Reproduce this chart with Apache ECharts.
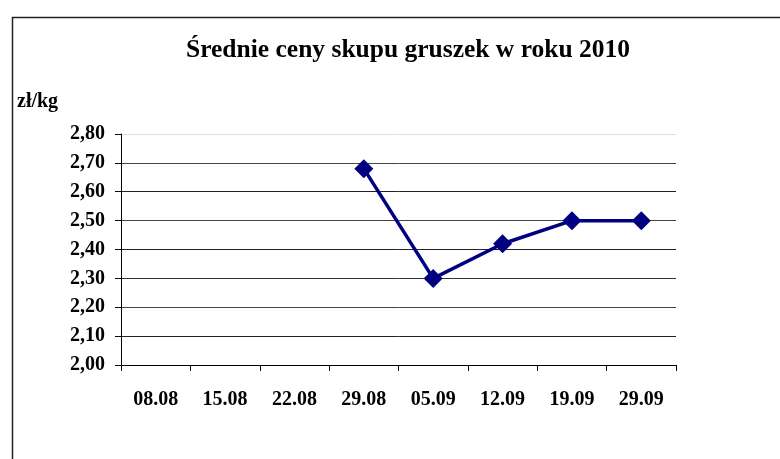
<!DOCTYPE html>
<html>
<head>
<meta charset="utf-8">
<script src="https://cdn.jsdelivr.net/npm/echarts@6/dist/echarts.min.js"></script>
<style>
  html, body { margin: 0; padding: 0; background: #fff; }
  #main { width: 780px; height: 459px; }
</style>
</head>
<body>
<div id="main"></div>
<script>
// weekly dates and average purchase price (zł/kg)
const categories = ["08.08", "15.08", "22.08", "29.08", "05.09", "12.09", "19.09", "29.09"];
const prices = [null, null, null, 2.68, 2.30, 2.42, 2.50, 2.50];
const yMin = 2.0;
const yMax = 2.8;
const yStep = 0.1;

const chart = echarts.init(document.getElementById("main"));

// gridlines from bottom to top, top one is faint like in the original
const gridColors = ["#000", "#222", "#444", "#333", "#222", "#444", "#222", "#444", "#e0e0e0"];

const option = {
  backgroundColor: "#fff",
  textStyle: { fontFamily: "Liberation Serif", fontWeight: "bold", color: "#000" },
  title: {
    text: "Średnie ceny skupu gruszek w roku 2010",
    left: 403,
    top: 32,
    textAlign: "center",
    textStyle: { fontFamily: "Liberation Serif", fontWeight: "bold", fontSize: 25.5, color: "#000" },
  },
  graphic: [
    {
      type: "rect",
      left: 10,
      top: 15,
      shape: { width: 800, height: 480 },
      style: { fill: "none", stroke: "#222", lineWidth: 1.5 },
      silent: true,
    },
    {
      type: "text",
      left: 17,
      top: 92,
      style: { text: "zł/kg", fontFamily: "Liberation Serif", fontWeight: "bold", fontSize: 20, fill: "#000" },
    },
  ],
  grid: { left: 121, right: 104, top: 134, bottom: 94 },
  xAxis: {
    type: "category",
    data: categories,
    boundaryGap: true,
    axisLine: { show: true, lineStyle: { color: "#000", width: 1 } },
    axisTick: { show: true, length: 6, lineStyle: { color: "#000" } },
    axisLabel: {
      margin: 25,
      fontFamily: "Liberation Serif",
      fontWeight: "bold",
      fontSize: 20,
      color: "#000",
    },
    splitLine: { show: false },
  },
  yAxis: {
    type: "value",
    min: yMin,
    max: yMax,
    interval: yStep,
    axisLine: { show: true, lineStyle: { color: "#000", width: 1 } },
    axisTick: { show: true, length: 6, lineStyle: { color: "#000" } },
    axisLabel: {
      margin: 16,
      fontFamily: "Liberation Serif",
      fontWeight: "bold",
      fontSize: 20,
      color: "#000",
      formatter: (v) => v.toFixed(2).replace(".", ","),
    },
    splitLine: { show: true, lineStyle: { color: gridColors, width: 1 } },
  },
  series: [
    {
      type: "line",
      data: prices,
      connectNulls: false,
      symbol: "diamond",
      symbolSize: 19,
      itemStyle: { color: "#000080" },
      lineStyle: { color: "#000080", width: 3.5 },
      animation: false,
    },
  ],
};

chart.setOption(option);
</script>
</body>
</html>
